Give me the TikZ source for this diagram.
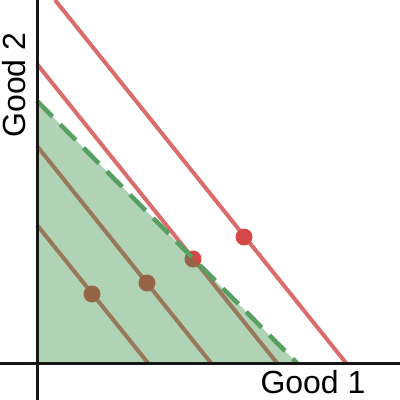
\documentclass[tikz,border=0pt]{standalone}
\usepackage{fontspec}
\setmainfont{Liberation Sans}
\definecolor{linepink}{RGB}{217,108,108}
\definecolor{dotred}{RGB}{213,72,72}
\definecolor{fillgreen}{RGB}{57,142,70}
\definecolor{dashgreen}{RGB}{88,160,98}
\definecolor{axisblack}{RGB}{22,22,22}
\tikzset{
  budget/.style={draw=linepink, line width=4pt},
  bundle/.style={fill=dotred, draw=none},
  feasible/.style={fill=fillgreen, fill opacity=0.4, draw=none},
  frontier/.style={draw=dashgreen, line width=4.5pt, dash pattern=on 22pt off 11pt},
  axisline/.style={draw=axisblack, line width=3pt},
  axislabel/.style={font=\fontsize{32}{38}\selectfont, inner sep=0pt, text=black}
}
\begin{document}
\begin{tikzpicture}[x=1pt,y=-1pt]
\useasboundingbox (0,0) rectangle (400,400);
% intercepts
\coordinate (a1) at (37,225);  \coordinate (b1) at (148,363);
\coordinate (a2) at (37,146);  \coordinate (b2) at (211,363);
\coordinate (a3) at (37,64);   \coordinate (b3) at (277,363);
\coordinate (a4) at (55,0);    \coordinate (b4) at (346,363);
\coordinate (g0) at (37,101);  \coordinate (g1) at (297,363);
\coordinate (o) at (37,363);
% budget lines
\draw[budget] (a1) -- (b1);
\draw[budget] (a2) -- (b2);
\draw[budget] (a3) -- (b3);
\draw[budget] (a4) -- (b4);
% bundles
\fill[bundle] (92,294) circle (8.5);
\fill[bundle] (147,283) circle (8.5);
\fill[bundle] (193,259) circle (8.5);
\fill[bundle] (244,237) circle (8.5);
% feasible set
\fill[feasible] (g0) -- (g1) -- (o) -- cycle;
\draw[frontier] (g0) -- (g1);
% axes
\coordinate (xl) at (0,363); \coordinate (xr) at (400,363);
\coordinate (yt) at (37,0);  \coordinate (yb) at (37,400);
\draw[axisline] (xl) -- (xr);
\draw[axisline] (yt) -- (yb);
\node[axislabel, anchor=base] (good1) at (313,393) {Good 1};
\node[axislabel, anchor=base, rotate=90] (good2) at (25,85) {Good 2};
\end{tikzpicture}
\end{document}
